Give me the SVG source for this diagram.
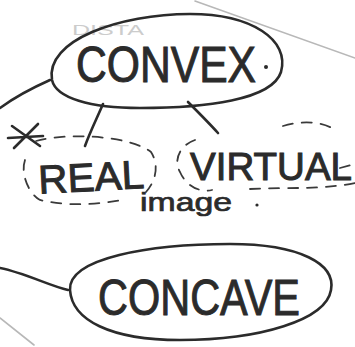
<svg xmlns="http://www.w3.org/2000/svg" width="355" height="347" viewBox="0 0 355 347">
<style>
.pen{fill:none;stroke:#2b2b2b;stroke-width:2.6;stroke-linecap:round;stroke-linejoin:round}
.dash{fill:none;stroke:#3a3a3a;stroke-width:1.8;stroke-dasharray:10 9;stroke-linecap:round}
.faint{fill:none;stroke:#b8b8b8;stroke-width:1.6;stroke-linecap:round}
.lbl{font-family:"Liberation Sans",Arial,sans-serif;fill:#2b2b2b;stroke:#2b2b2b;stroke-width:1}
</style>
<rect width="355" height="347" fill="#ffffff"/>
<g id="background-marks">
<path class="faint" d="M195 1 L355 58"/>
<path class="faint" d="M0 318 L34 345"/>
<text x="72" y="35" font-family="Liberation Sans,Arial,sans-serif" font-size="15" fill="#cccccc" textLength="72" lengthAdjust="spacingAndGlyphs">DISTA</text>
</g>
<g id="connectors">
<path class="pen" d="M50 80 C32 88 15 97 0 108"/>
<path class="pen" d="M103 104 C97 118 90 132 85 146"/>
<path class="pen" d="M188 102 C198 112 209 123 218 133"/>
<path class="pen" d="M0 268 C25 273 50 286 68 290"/>
</g>
<g id="convex">
<path class="pen" d="M52 80 C45 40 120 14 190 14 C252 14 290 40 281 72 C272 100 205 108 140 108 C90 108 56 98 52 80 Z"/>
<text class="lbl" x="76" y="82" font-size="50" textLength="180" lengthAdjust="spacingAndGlyphs">CONVEX</text>
<circle cx="266" cy="67" r="2" fill="#2b2b2b"/>
</g>
<g id="asterisk">
<path class="pen" d="M12 126 L40 146 M14 148 L38 124 M8 138 L43 136"/>
</g>
<g id="real">
<path class="dash" d="M36 141 C70 132 130 136 151 152 C160 166 155 182 146 192 M25 160 C20 175 30 195 40 200 C70 207 100 204 122 200"/>
<text class="lbl" x="38" y="191" font-size="40" textLength="106" lengthAdjust="spacingAndGlyphs" transform="rotate(-3 90 175)">REAL</text>
</g>
<g id="virtual">
<path class="dash" d="M195 140 C180 145 173 160 180 172 C186 186 200 193 212 190"/>
<path class="dash" d="M250 189 C290 187 320 190 355 183 M283 126 C300 121 318 121 332 128 M340 168 L355 164"/>
<text class="lbl" x="190" y="180" font-size="38" textLength="162" lengthAdjust="spacingAndGlyphs">VIRTUAL</text>
</g>
<g id="image">
<text class="lbl" x="140" y="211" font-size="26" textLength="92" lengthAdjust="spacingAndGlyphs" style="stroke-width:0.7">image</text>
<circle cx="257" cy="205" r="1.6" fill="#2b2b2b"/>
</g>
<g id="concave">
<path class="pen" d="M70 290 C68 258 150 244 230 244 C300 244 336 264 331 290 C326 320 260 340 180 340 C110 340 72 320 70 290 Z"/>
<text class="lbl" x="98" y="315" font-size="50" textLength="202" lengthAdjust="spacingAndGlyphs">CONCAVE</text>
</g>
</svg>
